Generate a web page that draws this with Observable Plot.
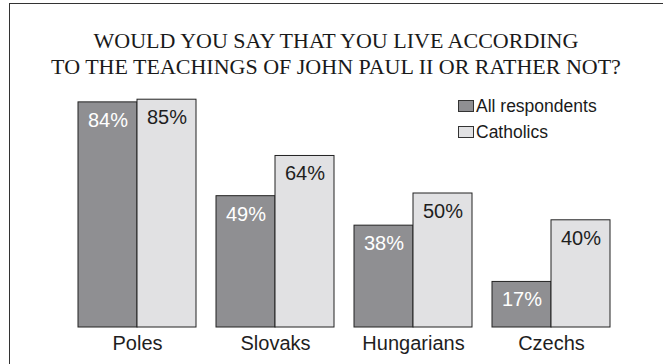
<!DOCTYPE html>
<html>
<head>
<meta charset="utf-8">
<script src="https://cdn.jsdelivr.net/npm/d3@7"></script>
<script src="https://cdn.jsdelivr.net/npm/@observablehq/plot@0.6"></script>
<style>
  html, body { margin: 0; padding: 0; background: #fff; }
  #wrap { position: relative; width: 663px; height: 364px; overflow: hidden; background: #fff; }
  #frame { position: absolute; left: 9px; top: 3px; width: 700px; height: 400px;
           border-left: 1.5px solid #333; border-top: 1.5px solid #333; box-sizing: border-box; }
  #title { position: absolute; left: 0; width: 672px; top: 28px; text-align: center;
           font-family: "Liberation Serif", "Times New Roman", serif; font-size: 22px;
           line-height: 26px; color: #1a1a1a; }
  #chart { position: absolute; left: 0; top: 0; }
  #legend { position: absolute; left: 458px; top: 93px;
            font-family: "Liberation Sans", Arial, sans-serif; font-size: 17.5px; color: #1a1a1a; }
  .lg-row { display: flex; align-items: center; height: 26px; }
  .lg-sw { width: 14px; height: 10px; border: 1px solid #333; margin-right: 2px; }
</style>
</head>
<body>
<div id="wrap">
  <div id="frame"></div>
  <div id="chart"></div>
  <div id="title">WOULD YOU SAY THAT YOU LIVE ACCORDING<br>TO THE TEACHINGS OF JOHN PAUL II OR RATHER NOT?</div>
  <div id="legend"></div>
</div>
<script>
const countries = ["Poles", "Slovaks", "Hungarians", "Czechs"];
const series = ["All respondents", "Catholics"];
const allRespondents = [84, 49, 38, 17];
const catholics = [85, 64, 50, 40];
const seriesColors = ["#8f8f92", "#e1e1e3"];
const labelColors = ["#ffffff", "#1e1e1e"];

const data = [];
countries.forEach((c, i) => {
  data.push({country: c, series: series[0], value: allRespondents[i]});
  data.push({country: c, series: series[1], value: catholics[i]});
});

const chart = Plot.plot({
  width: 663,
  height: 364,
  marginTop: 59,
  marginBottom: 37,
  marginLeft: 77,
  marginRight: 53,
  style: {fontFamily: "'Liberation Sans', Arial, sans-serif", fontSize: "20px", color: "#1e1e1e", background: "transparent"},
  fx: {domain: countries, paddingInner: 0.145, paddingOuter: 0, axis: "bottom", tickSize: 0, tickPadding: 8, label: null},
  x: {domain: series, padding: 0, axis: null},
  y: {domain: [0, 100], axis: null},
  color: {domain: series, range: seriesColors},
  marks: [
    Plot.barY(data, {fx: "country", x: "series", y: "value", fill: "series", stroke: "#222", strokeWidth: 1}),
    Plot.text(data, {fx: "country", x: "series", y: "value", text: d => d.value + "%", dy: 18,
      fontSize: 20, fill: d => labelColors[series.indexOf(d.series)]})
  ]
});
document.getElementById("chart").appendChild(chart);

const legend = document.getElementById("legend");
series.forEach((s, i) => {
  const row = document.createElement("div");
  row.className = "lg-row";
  const sw = document.createElement("div");
  sw.className = "lg-sw";
  sw.style.background = seriesColors[i];
  const t = document.createElement("span");
  t.textContent = s;
  row.appendChild(sw);
  row.appendChild(t);
  legend.appendChild(row);
});
</script>
</body>
</html>
